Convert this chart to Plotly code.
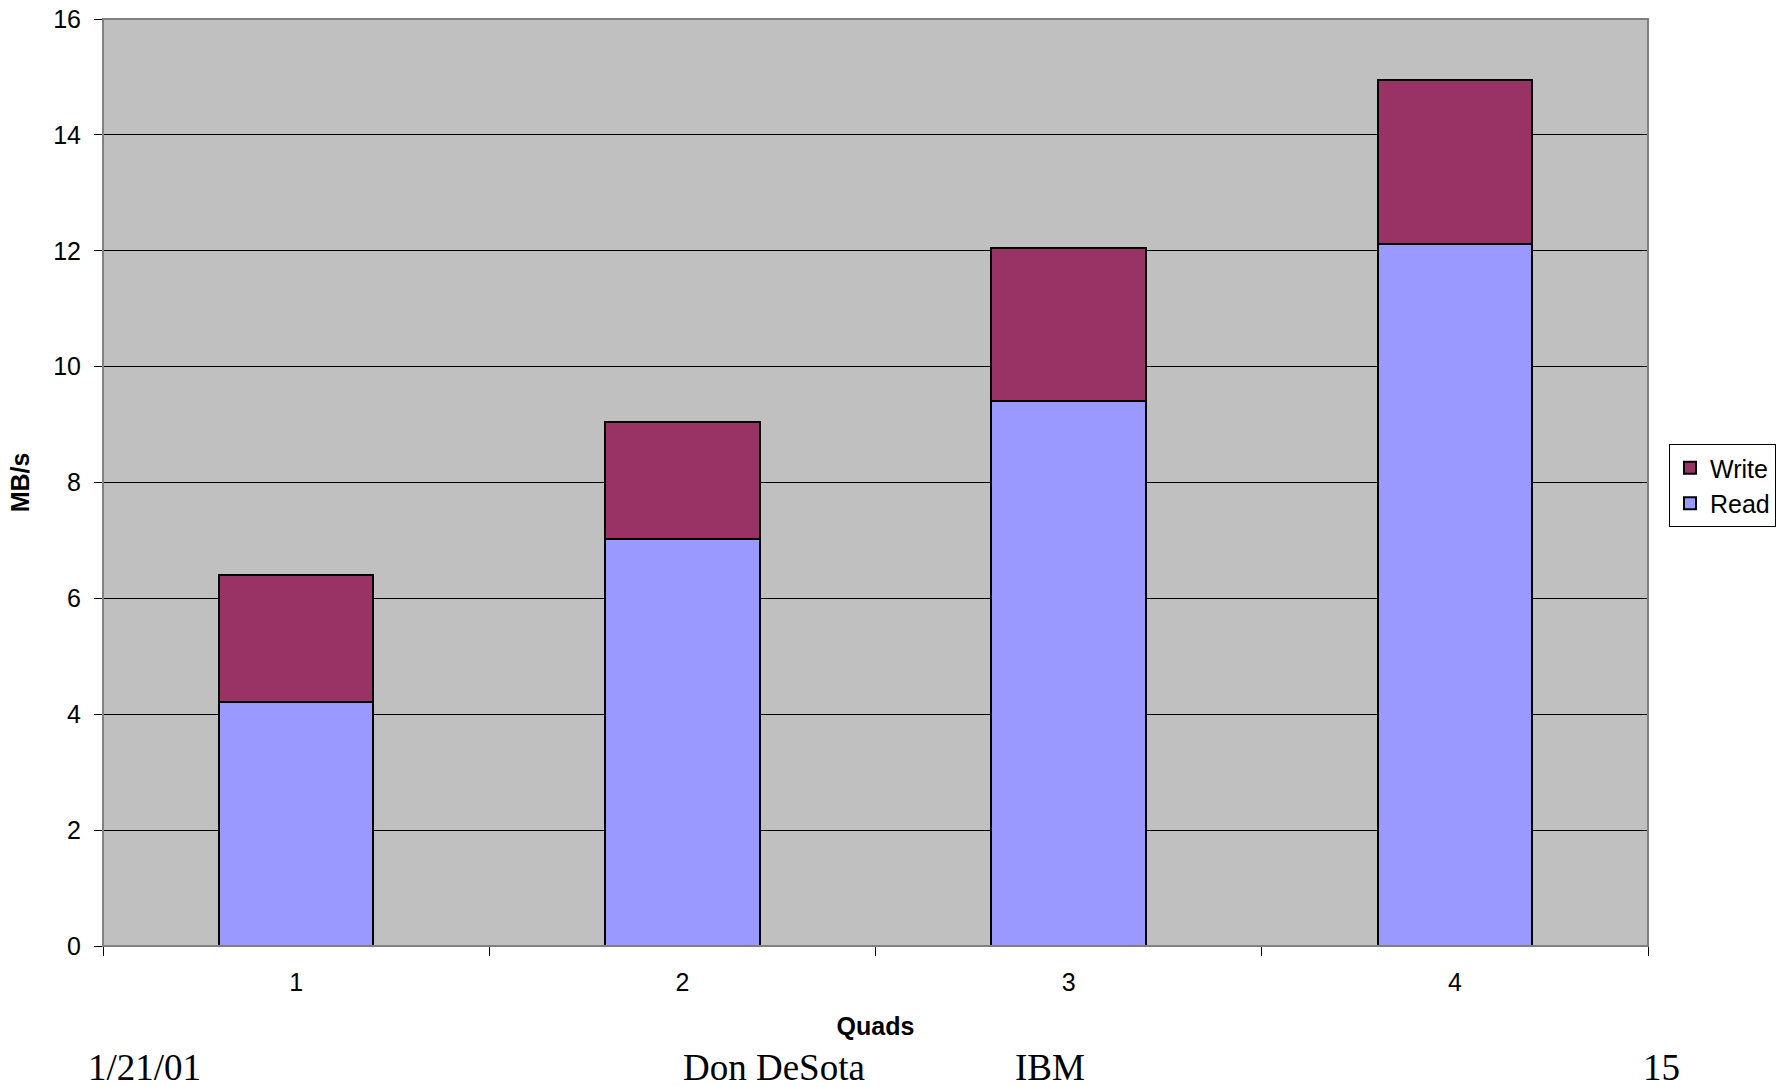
import plotly.graph_objects as go

# Throughput per number of quads, split into read and write traffic
quads = ["1", "2", "3", "4"]
read_mbs = [4.21, 7.03, 9.41, 12.12]
write_mbs = [2.19, 2.02, 2.64, 2.82]

y_ticks = [0, 2, 4, 6, 8, 10, 12, 14, 16]

READ_COLOR = "#9999FF"
WRITE_COLOR = "#993366"
PLOT_BG = "#C0C0C0"

W, H = 1782, 1087
L, R, T, B = 103, 134, 19, 141

fig = go.Figure()
fig.add_trace(go.Bar(
    x=quads, y=read_mbs, name="Read",
    marker=dict(color=READ_COLOR, line=dict(color="black", width=2)),
))
fig.add_trace(go.Bar(
    x=quads, y=write_mbs, name="Write",
    marker=dict(color=WRITE_COLOR, line=dict(color="black", width=2)),
))

axis_font = dict(family="Liberation Sans, Arial, sans-serif", size=25, color="black")
title_font = dict(family="Liberation Sans, Arial, sans-serif", size=25, color="black")

fig.update_layout(
    width=W, height=H,
    barmode="stack",
    bargap=0.6,
    paper_bgcolor="white",
    plot_bgcolor=PLOT_BG,
    margin=dict(l=L, r=R, t=T, b=B, autoexpand=False),
    showlegend=True,
    legend=dict(
        x=(1669 - L) / (W - L - R), xanchor="left",
        y=(H - B - 444) / (H - T - B), yanchor="top",
        traceorder="reversed",
        bgcolor="white", bordercolor="black", borderwidth=1,
        font=axis_font,
        itemwidth=30,
        tracegroupgap=0,
    ),
    xaxis=dict(
        type="category",
        tickson="boundaries",
        ticks="outside", ticklen=9, tickcolor="black", tickwidth=1,
        showgrid=False,
        showline=True, linecolor="black", linewidth=1,
        tickfont=axis_font,
        ticklabelstandoff=14,
        title=dict(text="<b>Quads</b>", font=title_font, standoff=22),
    ),
    yaxis=dict(
        range=[0, 16],
        tickvals=y_ticks,
        ticks="outside", ticklen=8, tickcolor="black", tickwidth=1,
        showgrid=True, gridcolor="black", gridwidth=1,
        showline=True, linecolor="#404040", linewidth=1,
        zeroline=False,
        tickfont=axis_font,
        ticklabelstandoff=8,
        title=dict(text="<b>MB/s</b>", font=title_font, standoff=16),
    ),
)

# Gray frame around the plotting area (top and right edges)
fig.add_shape(
    type="rect", xref="paper", yref="paper", x0=0, x1=1, y0=0, y1=1,
    line=dict(color="#808080", width=2), fillcolor="rgba(0,0,0,0)", layer="above",
)

# Slide footer
footer_font = dict(family="Liberation Serif, Times New Roman, serif", size=37, color="black")
footer_y = (H - B - 1067) / (H - T - B)
for text, xc in [("1/21/01", 144), ("Don DeSota", 774), ("IBM", 1050), ("15", 1662)]:
    fig.add_annotation(
        text=text, xref="paper", yref="paper",
        x=(xc - L) / (W - L - R), y=footer_y,
        xanchor="center", yanchor="middle",
        height=36, valign="middle",
        showarrow=False, font=footer_font,
    )

fig.write_html("out.html")
